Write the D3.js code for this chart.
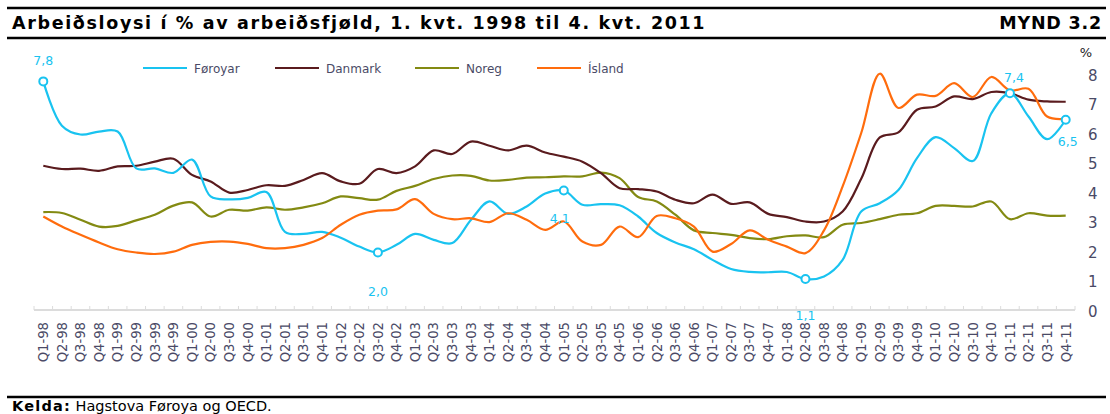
<!DOCTYPE html>
<html lang="fo">
<head>
    <meta charset="UTF-8">
    <title>Arbeiðsloysi</title>
    <script type="text/javascript" src="https://cdn.jsdelivr.net/npm/d3@7"></script>
    <style type="text/css">
        body { margin: 0; background: #fff; }
        svg { display: block; }
        text { font-family: "DejaVu Sans", Verdana, sans-serif; }
    </style>
</head>
<body>
<script type="text/javascript">
    // quarters Q1-98 .. Q4-11
    var years = ['98', '99', '00', '01', '02', '03', '04', '05', '06', '07', '08', '09', '10', '11'];
    var quarters = [];
    years.forEach(function (y) {
        [1, 2, 3, 4].forEach(function (q) { quarters.push('Q' + q + '-' + y); });
    });

    var foroyar = [7.8, 6.3, 6.0, 6.1, 6.1, 4.85, 4.85, 4.7, 5.15, 3.9, 3.8, 3.85, 4.05, 2.7,
        2.63, 2.7, 2.5, 2.2, 2.0, 2.26, 2.63, 2.43, 2.32, 3.1, 3.73, 3.31, 3.56, 4.0,
        4.1, 3.62, 3.64, 3.6, 3.22, 2.66, 2.34, 2.11, 1.75, 1.44, 1.34, 1.33, 1.34, 1.1,
        1.19, 1.75, 3.39, 3.67, 4.12, 5.2, 5.91, 5.54, 5.1, 6.72, 7.4, 6.61, 5.84, 6.5];
    var danmark = [4.94, 4.83, 4.84, 4.77, 4.92, 4.94, 5.08, 5.18, 4.63, 4.41, 4.03, 4.12, 4.28, 4.26,
        4.46, 4.69, 4.41, 4.33, 4.83, 4.69, 4.92, 5.46, 5.34, 5.76, 5.62, 5.46, 5.62, 5.39,
        5.25, 5.08, 4.69, 4.18, 4.15, 4.07, 3.79, 3.67, 3.96, 3.65, 3.7, 3.31, 3.2, 3.05,
        3.05, 3.39, 4.5, 5.9, 6.07, 6.84, 6.95, 7.29, 7.2, 7.44, 7.4, 7.18, 7.12, 7.11];
    var noreg = [3.37, 3.34, 3.11, 2.88, 2.9, 3.09, 3.28, 3.59, 3.7, 3.22, 3.45, 3.42, 3.53, 3.45,
        3.53, 3.67, 3.9, 3.84, 3.79, 4.09, 4.26, 4.49, 4.61, 4.6, 4.44, 4.46, 4.54, 4.55,
        4.58, 4.58, 4.71, 4.52, 3.88, 3.73, 3.28, 2.75, 2.66, 2.6, 2.49, 2.45, 2.55, 2.58,
        2.52, 2.94, 3.0, 3.13, 3.28, 3.33, 3.58, 3.58, 3.56, 3.73, 3.13, 3.33, 3.25, 3.25];
    var island = [3.22, 2.88, 2.6, 2.34, 2.11, 2.0, 1.95, 2.03, 2.26, 2.36, 2.37, 2.29, 2.15, 2.15,
        2.26, 2.49, 2.94, 3.28, 3.42, 3.46, 3.81, 3.31, 3.13, 3.16, 3.03, 3.33, 3.11, 2.77,
        3.05, 2.37, 2.26, 2.88, 2.52, 3.24, 3.16, 2.88, 2.03, 2.29, 2.75, 2.43, 2.2, 1.98,
        2.75, 4.24, 6.05, 8.06, 6.9, 7.35, 7.31, 7.74, 7.27, 7.95, 7.49, 7.55, 6.61, 6.53];

    var seriesNames = ['Føroyar', 'Danmark', 'Noreg', 'Ísland'];
    var seriesColors = ['#19c3f0', '#5a1b1e', '#838a12', '#ff6c0d'];
    var seriesValues = [foroyar, danmark, noreg, island];

    // marked Føroyar points (index into quarters) and their labels
    var markedIdx = [0, 18, 28, 41, 52, 55];
    var markedText = ['7,8', '2,0', '4,1', '1,1', '7,4', '6,5'];

    var yTicks = [0, 1, 2, 3, 4, 5, 6, 7, 8];

    var width = 1110;
    var height = 414;
    var plotLeft = 34, plotRight = 1075;
    var plotTop = 75.5, plotBottom = 311.5;

    var svg = d3.select('body').append('svg')
        .attr('width', width)
        .attr('height', height);

    // header / footer rules
    var rule = function (y) {
        svg.append('line')
            .attr('x1', 7).attr('x2', 1106)
            .attr('y1', y).attr('y2', y)
            .attr('stroke', '#000').attr('stroke-width', 2.6);
    };
    rule(8);
    rule(38);
    rule(397);

    svg.append('text')
        .attr('x', 12).attr('y', 29)
        .attr('font-size', 17.5).attr('font-weight', 'bold')
        .attr('letter-spacing', 1.65)
        .text('Arbeiðsloysi í % av arbeiðsfjøld, 1. kvt. 1998 til 4. kvt. 2011');
    svg.append('text')
        .attr('x', 1102).attr('y', 29)
        .attr('text-anchor', 'end')
        .attr('font-size', 17.5).attr('font-weight', 'bold')
        .attr('letter-spacing', 0.8)
        .text('MYND 3.2');

    var kelda = svg.append('text')
        .attr('x', 12).attr('y', 411)
        .attr('font-size', 14.5)
        .attr('font-family', '"Liberation Sans", Arial, sans-serif');
    kelda.append('tspan').attr('font-weight', 'bold').attr('letter-spacing', 1.2).text('Kelda:');
    kelda.append('tspan').text(' Hagstova Føroya og OECD.');

    var x = d3.scalePoint()
        .domain(quarters)
        .range([plotLeft, plotRight])
        .padding(0.5);
    var y = d3.scaleLinear()
        .domain([0, 8])
        .range([plotBottom, plotTop]);

    // category axis with ticks on band boundaries
    var step = x.step();
    var axisY = 310;
    svg.append('line')
        .attr('x1', plotLeft).attr('x2', plotRight)
        .attr('y1', axisY).attr('y2', axisY)
        .attr('stroke', '#dcdcdc').attr('stroke-width', 2);
    svg.append('g')
        .selectAll('line')
        .data(d3.range(quarters.length + 1))
        .enter()
        .append('line')
        .attr('x1', function (i) { return plotLeft + i * step; })
        .attr('x2', function (i) { return plotLeft + i * step; })
        .attr('y1', axisY - 4).attr('y2', axisY)
        .attr('stroke', '#dcdcdc').attr('stroke-width', 1);

    svg.append('g')
        .selectAll('text')
        .data(quarters)
        .enter()
        .append('text')
        .attr('transform', function (d) { return 'translate(' + (x(d) + 4.8) + ',322) rotate(-90)'; })
        .attr('text-anchor', 'end')
        .attr('font-size', 13.2)
        .attr('fill', '#4a4a66')
        .text(function (d) { return d; });

    // right value axis
    var yAxis = d3.axisRight(y).tickValues(yTicks).tickSize(0).tickPadding(0);
    var yAxisG = svg.append('g')
        .attr('transform', 'translate(1088,0)')
        .call(yAxis);
    yAxisG.select('.domain').remove();
    yAxisG.selectAll('text')
        .attr('font-size', 15)
        .attr('font-family', '"DejaVu Sans", Verdana, sans-serif')
        .attr('fill', '#4a4a66');
    svg.append('text')
        .attr('x', 1086).attr('y', 57)
        .attr('text-anchor', 'middle')
        .attr('font-size', 13)
        .attr('fill', '#222')
        .text('%');

    // lines
    var line = d3.line()
        .x(function (d, i) { return x(quarters[i]); })
        .y(function (d) { return y(d); })
        .curve(d3.curveCatmullRom.alpha(0.5));

    var drawOrder = [2, 1, 0, 3];
    drawOrder.forEach(function (s) {
        svg.append('path')
            .datum(seriesValues[s])
            .attr('fill', 'none')
            .attr('stroke', seriesColors[s])
            .attr('stroke-width', 2.2)
            .attr('stroke-linejoin', 'round')
            .attr('d', line);
    });

    // markers on Føroyar
    var labelOffsets = [[0, -16], [0, 43], [-4, 32], [0, 41], [4, -11], [2, 26]];
    svg.append('g')
        .selectAll('circle')
        .data(markedIdx)
        .enter()
        .append('circle')
        .attr('cx', function (i) { return x(quarters[i]); })
        .attr('cy', function (i) { return y(foroyar[i]); })
        .attr('r', 4)
        .attr('fill', '#fff')
        .attr('stroke', seriesColors[0])
        .attr('stroke-width', 2);
    svg.append('g')
        .selectAll('text')
        .data(markedIdx)
        .enter()
        .append('text')
        .attr('x', function (i, k) { return x(quarters[i]) + labelOffsets[k][0]; })
        .attr('y', function (i, k) { return y(foroyar[i]) + labelOffsets[k][1]; })
        .attr('text-anchor', 'middle')
        .attr('font-size', 12.5)
        .attr('fill', seriesColors[0])
        .text(function (i, k) { return markedText[k]; });

    // legend
    var legendX = [143, 275, 415, 537];
    var legend = svg.append('g');
    seriesNames.forEach(function (name, s) {
        legend.append('line')
            .attr('x1', legendX[s]).attr('x2', legendX[s] + 44)
            .attr('y1', 68).attr('y2', 68)
            .attr('stroke', seriesColors[s]).attr('stroke-width', 2.2);
        legend.append('text')
            .attr('x', legendX[s] + 51).attr('y', 72.5)
            .attr('font-size', 12)
            .attr('fill', '#4a4a66')
            .text(name);
    });
</script>
</body>
</html>
